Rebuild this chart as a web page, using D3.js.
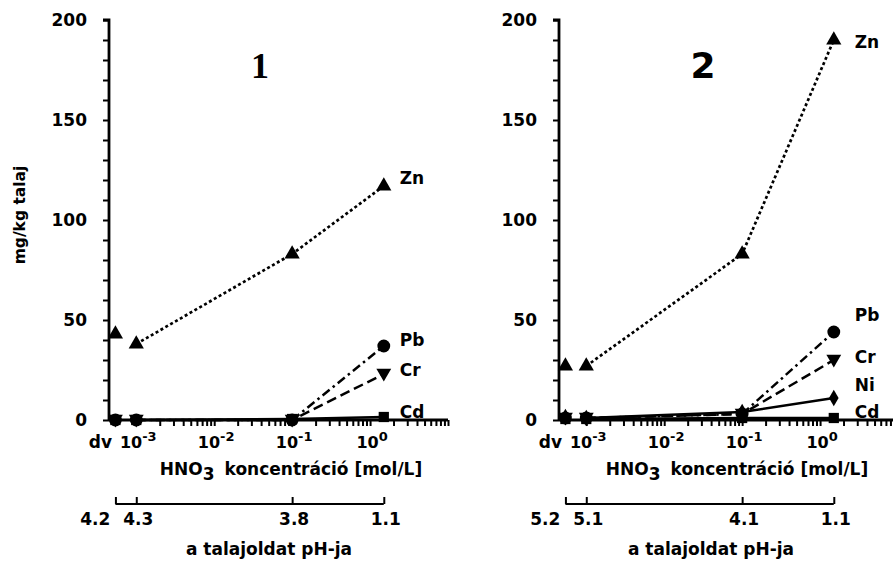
<!DOCTYPE html>
<html><head><meta charset="utf-8">
<script src="https://cdn.jsdelivr.net/npm/d3@7"></script>
<style>
body{margin:0;background:#fff}
svg{display:block}
text{font-family:"DejaVu Sans",sans-serif;font-weight:bold;fill:#000}
</style>
</head><body>
<svg id="c" width="893" height="562"></svg>
<script>
// ---- data ----
const concNames = ["dv", "10^-3", "10^-1", "~1.5"];
const conc = [5.4e-4, 1e-3, 1e-1, 1.5];          // dv (desztillált víz) plotted just right of the axis
const xTickExps = [-3, -2, -1, 0];
const yTicks = [0, 50, 100, 150, 200];
const pH1 = ["4.2", "4.3", "3.8", "1.1"];
const pH2 = ["5.2", "5.1", "4.1", "1.1"];
const panelNames = ["1", "2"];

const zn1 = [43, 38, 83, 117];
const pb1 = [0, 0, 0, 37];
const cr1 = [0, 0, 0, 23];
const cd1 = [0, 0, 0.5, 1.5];

const zn2 = [27, 27, 83, 190];
const pb2 = [1, 1, 3, 44];
const cr2 = [1, 1, 3, 30];
const ni2 = [1.5, 1, 4, 11];
const cd2 = [0.5, 0.5, 1, 1];

// ---- layout / style ----
const svg = d3.select("#c");
const Y0 = 420, YT = 20;
const y = d3.scaleLinear().domain([0, 200]).range([Y0, YT]);
const styles = {
  Zn: {sym: d3.symbolTriangle, size: 100, dash: "3 2.6", rot: 0},
  Pb: {sym: d3.symbolCircle, size: 130, dash: "9 4 2.5 4", rot: 0},
  Cr: {sym: d3.symbolTriangle, size: 95, dash: "10 5", rot: 180},
  Ni: {sym: d3.symbolDiamond, size: 80, dash: null, rot: 0},
  Cd: {sym: d3.symbolSquare, size: 105, dash: null, rot: 0}
};

const panels = [
  {x0: 109, name: panelNames[0], pH: pH1, numFont: "'Liberation Serif',serif", numX: 260, numY: 78,
   hx: 182, phx: 160,
   series: [["Zn", zn1, -8], ["Pb", pb1, -6], ["Cr", cr1, -4], ["Cd", cd1, -5]], lblDx: 16},
  {x0: 559, name: panelNames[1], pH: pH2, numFont: "'DejaVu Sans',sans-serif", numX: 703, numY: 78,
   hx: 178, phx: 152,
   series: [["Zn", zn2, 2], ["Pb", pb2, -17], ["Cr", cr2, -3], ["Ni", ni2, -13], ["Cd", cd2, -6]], lblDx: 21}
];

panels.forEach(p => {
  const x = d3.scaleLog().domain([Math.pow(10, -3.35), 10]).range([p.x0, p.x0 + 339]);
  const g = svg.append("g");

  // y axis
  const ya = d3.axisLeft(y).tickValues(d3.range(0, 201, 10)).tickSize(6).tickPadding(16)
    .tickFormat(d => yTicks.includes(d) ? d : "");
  const yg = g.append("g").attr("transform", `translate(${p.x0},0)`).call(ya);
  yg.select(".domain").attr("stroke-width", 2.8).attr("d", `M-6,${YT}H0V${Y0}`);
  yg.selectAll(".tick line").attr("stroke-width", 2);
  yg.selectAll("text").style("font-size", "17px").style("font-family", "'DejaVu Sans',sans-serif").style("font-weight", "bold");

  // x axis (log, minor ticks)
  const xt = [];
  xTickExps.forEach(e => { for (let k = 1; k <= 9; k++) xt.push(k * Math.pow(10, e)); });
  xt.push(10);
  const xa = d3.axisBottom(x).tickValues(xt).tickSize(6).tickFormat("");
  const xg = g.append("g").attr("transform", `translate(0,${Y0})`).call(xa);
  xg.select(".domain").attr("stroke-width", 2.8).attr("d", `M${p.x0},0H${p.x0 + 339}`);
  xg.selectAll(".tick line").attr("stroke-width", 2);

  // x tick labels
  g.append("text").attr("x", p.x0 + 3).attr("y", Y0 + 28).attr("text-anchor", "end")
    .style("font-size", "17px").text(concNames[0]);
  xTickExps.forEach(e => {
    const t = g.append("text").attr("x", x(Math.pow(10, e)) + 2).attr("y", Y0 + 28)
      .attr("text-anchor", "middle").style("font-size", "16px");
    t.append("tspan").text("10");
    t.append("tspan").attr("dy", -7).style("font-size", "13px").text(e === 0 ? "0" : "-" + Math.abs(e));
  });

  // HNO3 label
  const hl = g.append("text").attr("x", p.x0 + p.hx).attr("y", Y0 + 55).attr("text-anchor", "middle").style("font-size", "17px");
  hl.append("tspan").text("HNO");
  hl.append("tspan").attr("dy", 5).text("3");
  hl.append("tspan").attr("dy", -5).attr("dx", 10).text("koncentráció [mol/L]");

  // pH axis
  const PY = Y0 + 84;
  const pa = d3.axisTop(x).tickValues(conc).tickSize(7).tickFormat("");
  const pg = g.append("g").attr("transform", `translate(0,${PY})`).call(pa);
  pg.select(".domain").attr("stroke-width", 2.2).attr("d", `M${x(conc[0])},0H${x(conc[3])}`);
  pg.selectAll(".tick line").attr("stroke-width", 2);
  p.pH.forEach((v, i) => {
    g.append("text").attr("x", i === 0 ? x(conc[0]) - 5 : x(conc[i]) + 2).attr("y", PY + 21)
      .attr("text-anchor", i === 0 ? "end" : "middle").style("font-size", "17px").text(v);
  });
  g.append("text").attr("x", p.x0 + p.phx).attr("y", PY + 51).attr("text-anchor", "middle")
    .style("font-size", "17px").text("a talajoldat pH-ja");

  // panel number
  g.append("text").attr("x", p.numX).attr("y", p.numY).attr("text-anchor", "middle")
    .style("font-family", p.numFont).style("font-size", "36px").text(p.name);

  // series lines (dv not connected)
  p.series.forEach(([nm, vals]) => {
    const st = styles[nm];
    const pts = vals.map((v, i) => [x(conc[i]), y(v)]).slice(1);
    g.append("path").attr("d", d3.line()(pts)).attr("fill", "none").attr("stroke", "#000")
      .attr("stroke-width", nm === "Zn" ? 2.7 : 2.5)
      .attr("stroke-dasharray", st.dash);
  });
  // markers
  p.series.forEach(([nm, vals, ldy]) => {
    const st = styles[nm];
    vals.forEach((v, i) => {
      g.append("path").attr("d", d3.symbol(st.sym, st.size)())
        .attr("transform", `translate(${x(conc[i])},${y(v) + (st.rot ? -1 : 0)}) rotate(${st.rot})`)
        .attr("fill", "#000");
    });
    g.append("text").attr("x", x(conc[3]) + p.lblDx).attr("y", y(vals[3]) + ldy + 6)
      .style("font-size", "17px").text(nm);
  });
});

// y axis title
svg.append("text").attr("transform", "translate(25,215) rotate(-90)").attr("text-anchor", "middle")
  .style("font-size", "15.5px").text("mg/kg talaj");
</script>
</body></html>
